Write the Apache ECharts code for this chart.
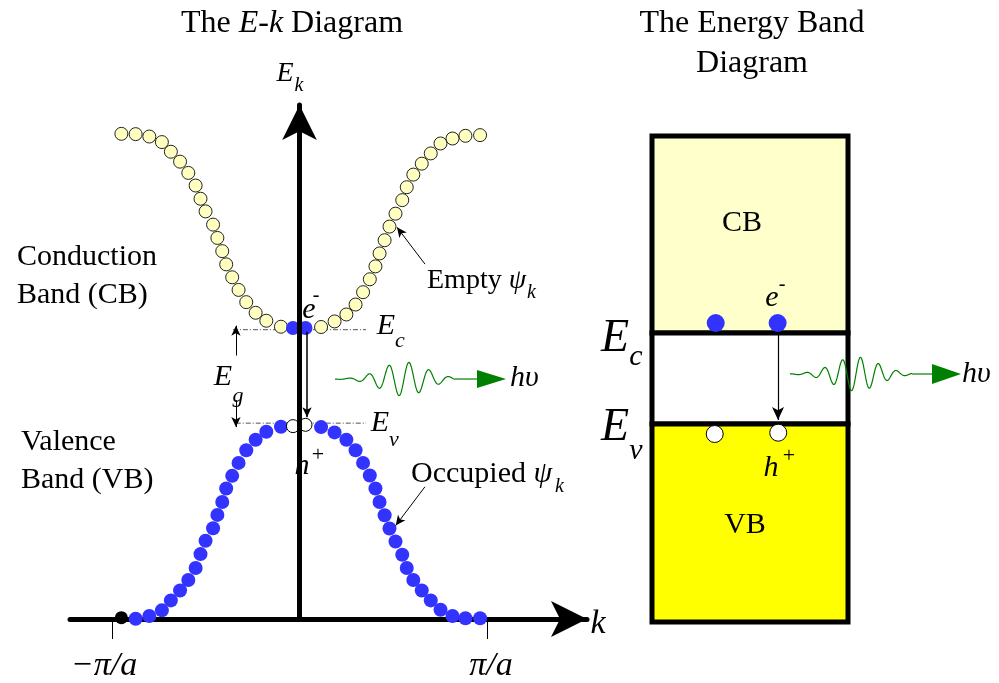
<!DOCTYPE html>
<html><head><meta charset="utf-8">
<script src="https://cdn.jsdelivr.net/npm/echarts@6/dist/echarts.min.js"></script>
<style>html,body{margin:0;padding:0;background:#fff}#c{width:999px;height:683px}</style>
</head><body><div id="c"></div>
<script>
// ---- E-k diagram data: k in units of pi/a, E in arbitrary energy units (k-axis at E = 0)
const kLeft  = [-0.95,-0.874,-0.801,-0.734,-0.686,-0.637,-0.593,-0.554,-0.528,-0.501,-0.461,-0.438,-0.412,-0.391,-0.359,-0.325,-0.284,-0.234,-0.177,-0.099,-0.035];
const ecLeft = [4.88,4.877,4.853,4.797,4.70,4.60,4.487,4.36,4.227,4.10,3.967,3.833,3.70,3.567,3.437,3.31,3.187,3.08,3.00,2.94,2.927];
const evLeft = [0.013,0.003,0.03,0.087,0.187,0.287,0.393,0.513,0.653,0.787,0.913,1.047,1.177,1.313,1.44,1.57,1.697,1.803,1.883,1.933,1.94];
const kRight  = [0.032,0.115,0.187,0.250,0.299,0.339,0.375,0.405,0.427,0.454,0.48,0.512,0.548,0.572,0.607,0.652,0.7,0.752,0.816,0.885,0.963];
const ecRight = [2.927,2.937,2.993,3.063,3.163,3.287,3.417,3.547,3.677,3.81,3.947,4.077,4.213,4.343,4.47,4.58,4.683,4.783,4.833,4.86,4.867];
const evRight = [1.953,1.93,1.877,1.803,1.697,1.57,1.443,1.313,1.177,1.043,0.91,0.78,0.647,0.513,0.393,0.287,0.187,0.093,0.03,0.007,0.007];
const E_C = 2.91, E_V = 1.97;
const kTicks = [-1, 1];
const kTickLabels = ['{l|\u2212\u03c0/a}', '{r|\u03c0/a}'];
// ---- Energy band diagram data (x: 0..1 across the box, same energy scale)
const boxTop = 4.86, boxEc = 2.89, boxEv = 1.98, boxBottom = 0;
const electronX = [0.325, 0.641], electronE = [2.99, 2.99];
const holeX = [0.32, 0.644], holeE = [1.88, 1.893];

const FONT = '"Liberation Serif","Times New Roman",serif';
const BLUE = '#3333ff', CBFILL = '#ffffcc', DOTY = '#ffffc0', GREEN = '#008000';

const cbEmpty = [], cbElec = [], vbOcc = [], vbHole = [], vbEdge = [];
kLeft.forEach((k, i) => {
  if (i === kLeft.length - 1) cbElec.push([k, ecLeft[i]]); else cbEmpty.push([k, ecLeft[i]]);
  if (i === 0) vbEdge.push([k, evLeft[i]]);
  else if (i === kLeft.length - 1) vbHole.push([k, evLeft[i]]);
  else vbOcc.push([k, evLeft[i]]);
});
kRight.forEach((k, i) => {
  if (i === 0) { cbElec.push([k, ecRight[i]]); vbHole.push([k, evRight[i]]); }
  else { cbEmpty.push([k, ecRight[i]]); vbOcc.push([k, evRight[i]]); }
});

function T(x, y, text, size, italic, align, rich) {
  const a = align || 'center';
  const st = { text, fill: '#000', font: (italic ? 'italic ' : '') + size + 'px ' + FONT,
    textAlign: a, textVerticalAlign: 'middle' };
  if (rich) st.rich = rich;
  return { type: 'text', x, y, z: 100, silent: true, style: st };
}
function wave(x0, x1, y, cx, s, amp, wl) {
  const pts = [];
  for (let x = x0; x <= x1; x += 0.5) {
    pts.push([x, y - amp * Math.exp(-Math.pow((x - cx) / s, 2)) * Math.sin(2 * Math.PI * (x - cx) / wl)]);
  }
  return pts;
}
function photon(x0, x1, xl, xa, y, cx, s, amp, wl, ah) {
  return [
    { type: 'polyline', z: 50, silent: true, shape: { points: wave(x0, x1, y, cx, s, amp, wl) }, style: { stroke: GREEN, lineWidth: 1.2, fill: null } },
    { type: 'line', z: 50, silent: true, shape: { x1: x1, y1: y, x2: xl, y2: y }, style: { stroke: GREEN, lineWidth: 1.2 } },
    { type: 'polygon', z: 50, silent: true, shape: { points: [[xl, y - ah / 2], [xa, y], [xl, y + ah / 2]] }, style: { fill: GREEN } }
  ];
}
const ital = { i: { fontStyle: 'italic', fontFamily: 'Liberation Serif', fontSize: 30 } };
const ital28 = { i: { fontStyle: 'italic', fontFamily: 'Liberation Serif', fontSize: 28 } };
const italT = { i: { fontStyle: 'italic', fontFamily: 'Liberation Serif', fontSize: 32 } };

const graphics = [
  T(292, 24, 'The {i|E-k} Diagram', 32, false, 'center', italT),
  T(752, 24, 'The Energy Band', 32, false),
  T(752, 64, 'Diagram', 32, false),
  T(285, 74, 'E', 28, true), T(299, 86, 'k', 20, true),
  T(17, 257, 'Conduction', 30, false, 'left'),
  T(17, 295, 'Band (CB)', 30, false, 'left'),
  T(21, 442, 'Valence', 30, false, 'left'),
  T(21, 480, 'Band (VB)', 30, false, 'left'),
  T(309, 310, 'e', 30, true), T(316, 296, '-', 20, false),
  T(302, 466, 'h', 30, true), T(318, 455, '+', 22, false),
  T(386, 326, 'E', 30, true), T(400, 341, 'c', 22, true),
  T(380, 423, 'E', 30, true), T(394, 440, 'v', 22, true),
  T(223, 377, 'E', 30, true), T(238, 396, 'g', 22, true),
  T(427, 281, 'Empty {i|\u03c8}', 28, false, 'left', ital28), T(527, 293, 'k', 20, true, 'left'),
  T(411, 474, 'Occupied {i|\u03c8}', 30, false, 'left', ital), T(555, 487, 'k', 20, true, 'left'),
  T(598, 624, 'k', 34, true),
  T(510, 378, 'h\u03c5', 30, true, 'left'),
  T(962, 374, 'h\u03c5', 30, true, 'left'),
  T(742, 223, 'CB', 30, false),
  T(745, 525, 'VB', 30, false),
  T(772, 298, 'e', 30, true), T(782, 285, '-', 20, false),
  T(771, 468, 'h', 30, true), T(789, 456, '+', 22, false),
  T(615, 339, 'E', 46, true), T(636, 357, 'c', 30, true),
  T(615, 428, 'E', 46, true), T(636, 451, 'v', 30, true)
].concat(photon(335, 455, 477, 506, 379, 404, 32, 17, 20, 18))
 .concat(photon(790, 912, 932, 961, 374, 856, 32, 17, 18, 20));

const option = {
  animation: false,
  backgroundColor: '#fff',
  grid: [
    { left: 70, width: 517, top: 105, height: 517 },
    { left: 652, width: 196, top: 105, height: 517 }
  ],
  xAxis: [
    { type: 'value', gridIndex: 0, min: -1.224, max: 1.5333,
      axisLine: { show: true, onZero: true, symbol: ['none', 'arrow'], symbolSize: [27, 36], lineStyle: { color: '#000', width: 5 } },
      axisTick: { show: true, customValues: kTicks, length: 20, lineStyle: { color: '#000', width: 1 } },
      axisLabel: { show: true, customValues: kTicks, margin: 30, color: '#000', fontSize: 34, fontStyle: 'italic', fontFamily: 'Liberation Serif',
        rich: { l: { fontSize: 34, fontStyle: 'italic', fontFamily: 'Liberation Serif', padding: [0, 16, 0, 0] },
                r: { fontSize: 34, fontStyle: 'italic', fontFamily: 'Liberation Serif', padding: [0, 0, 0, 8] } },
        formatter: v => kTickLabels[kTicks.indexOf(Math.round(v))] || '' },
      splitLine: { show: false } },
    { type: 'value', gridIndex: 1, min: 0, max: 1, show: false }
  ],
  yAxis: [
    { type: 'value', gridIndex: 0, min: 0, max: 5.17, z: 10,
      axisLine: { show: true, onZero: true, symbol: ['none', 'arrow'], symbolSize: [26, 35], lineStyle: { color: '#000', width: 5 } },
      axisTick: { show: false }, axisLabel: { show: false }, splitLine: { show: false } },
    { type: 'value', gridIndex: 1, min: 0, max: 5.17, show: false }
  ],
  series: [
    { type: 'line', name: 'Ec', xAxisIndex: 0, yAxisIndex: 0, data: [[-0.355, E_C], [0.355, E_C]], showSymbol: false, silent: true, z: 1,
      lineStyle: { color: '#555', width: 1, type: [5, 2, 1, 2] },
      markLine: { silent: true, symbol: ['none', 'arrow'], symbolSize: [7, 10], label: { show: false }, animation: false,
        lineStyle: { color: '#000', width: 1, type: 'solid' },
        data: [
          [{ coord: [-0.339, 2.65] }, { coord: [-0.339, 2.95] }],
          [{ coord: [-0.339, 2.2] }, { coord: [-0.339, 1.93] }],
          [{ coord: [0.04, 2.89] }, { coord: [0.04, 2.03], lineStyle: { width: 1.5 } }],
          [{ coord: [0.669, 3.57] }, { coord: [0.52, 3.94] }],
          [{ coord: [0.669, 1.33] }, { coord: [0.513, 0.94] }]
        ] } },
    { type: 'line', name: 'Ev', xAxisIndex: 0, yAxisIndex: 0, data: [[-0.34, E_V], [0.355, E_V]], showSymbol: false, silent: true, z: 1,
      lineStyle: { color: '#555', width: 1, type: [5, 2, 1, 2] } },
    { type: 'scatter', name: 'CB empty', xAxisIndex: 0, yAxisIndex: 0, data: cbEmpty, symbolSize: 13, clip: false, z: 3,
      itemStyle: { color: DOTY, borderColor: '#222', borderWidth: 1, opacity: 1 } },
    { type: 'scatter', name: 'CB electrons', xAxisIndex: 0, yAxisIndex: 0, data: cbElec, symbolSize: 14, clip: false, z: 3,
      itemStyle: { color: BLUE, opacity: 1 } },
    { type: 'scatter', name: 'VB occupied', xAxisIndex: 0, yAxisIndex: 0, data: vbOcc, symbolSize: 14, clip: false, z: 3,
      itemStyle: { color: BLUE, opacity: 1 } },
    { type: 'scatter', name: 'VB holes', xAxisIndex: 0, yAxisIndex: 0, data: vbHole, symbolSize: 13, clip: false, z: 3,
      itemStyle: { color: '#fff', borderColor: '#000', borderWidth: 1, opacity: 1 } },
    { type: 'scatter', name: 'VB edge', xAxisIndex: 0, yAxisIndex: 0, data: vbEdge, symbolSize: 13, clip: false, z: 3,
      itemStyle: { color: '#000', opacity: 1 } },
    { type: 'custom', name: 'bands', xAxisIndex: 1, yAxisIndex: 1, z: 1, silent: true, clip: false,
      data: [[0, 1, boxEc, boxTop], [0, 1, boxEv, boxEc], [0, 1, boxBottom, boxEv]],
      renderItem: (params, api) => {
        const p0 = api.coord([api.value(0), api.value(3)]);
        const p1 = api.coord([api.value(1), api.value(2)]);
        return { type: 'rect', shape: { x: p0[0], y: p0[1], width: p1[0] - p0[0], height: p1[1] - p0[1] },
          style: { fill: params.dataIndex === 0 ? CBFILL : (params.dataIndex === 1 ? '#ffffff' : '#ffff00'), stroke: '#000', lineWidth: 5 } };
      } },
    { type: 'scatter', name: 'box electrons', xAxisIndex: 1, yAxisIndex: 1, z: 4, clip: false,
      data: electronX.map((x, i) => [x, electronE[i]]), symbolSize: 18, itemStyle: { color: BLUE, opacity: 1 } },
    { type: 'scatter', name: 'box holes', xAxisIndex: 1, yAxisIndex: 1, z: 4, clip: false,
      data: holeX.map((x, i) => [x, holeE[i]]), symbolSize: 17, itemStyle: { color: '#fff', borderColor: '#000', borderWidth: 1, opacity: 1 },
      markLine: { silent: true, symbol: ['none', 'arrow'], symbolSize: [9, 13], label: { show: false }, animation: false,
        lineStyle: { color: '#000', width: 1.2, type: 'solid' },
        data: [[{ coord: [0.643, 2.87] }, { coord: [0.643, 2.02] }]] } }
  ],
  graphic: graphics
};
const chart = echarts.init(document.getElementById('c'), null, { renderer: 'canvas' });
chart.setOption(option);
</script>
</body></html>
